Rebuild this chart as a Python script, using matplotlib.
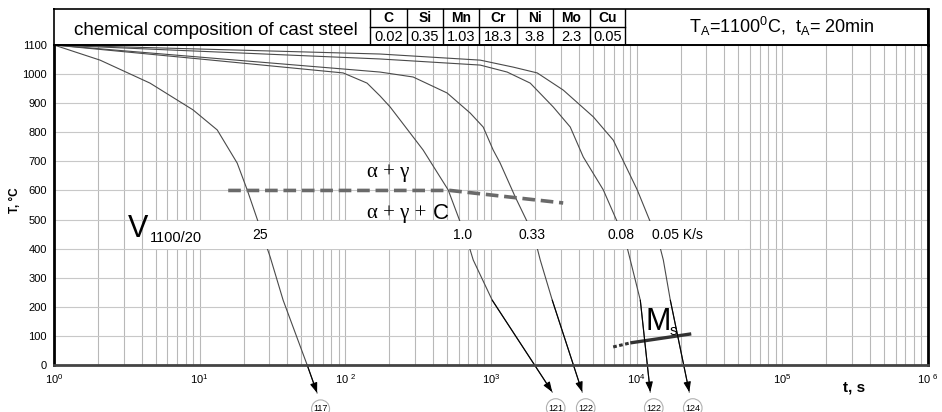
import matplotlib
matplotlib.use('Agg')
import matplotlib.pyplot as plt
import numpy as np
from matplotlib.ticker import LogLocator, NullFormatter

plt.rcParams['font.family'] = ['Liberation Sans', 'DejaVu Sans']
plt.rcParams['mathtext.fontset'] = 'custom'
plt.rcParams['mathtext.rm'] = 'Liberation Sans'
plt.rcParams['mathtext.it'] = 'Liberation Sans:italic'
plt.rcParams['mathtext.bf'] = 'Liberation Sans:bold'

# ---------------- data ----------------
elements = ['C', 'Si', 'Mn', 'Cr', 'Ni', 'Mo', 'Cu']
contents = ['0.02', '0.35', '1.03', '18.3', '3.8', '2.3', '0.05']

rate_labels = ['25', '1.0', '0.33', '0.08', '0.05 K/s']
end_numbers = [117, 121, 122, 122, 124]

t_25 = [1, 2.07, 4.56, 9.0, 13.2, 18.1, 21.2, 25.2, 30.5, 37.4, 54.7, 64]
T_25 = [1100, 1048, 969, 877, 808, 694, 602, 492, 371, 223, 0, -96]

t_1 = [1, 10, 96.6, 141, 173, 203, 238, 342, 508, 614, 720, 755, 1019, 2633]
T_1 = [1100, 1052, 1004, 969, 925, 887, 842, 739, 602, 492, 395, 361, 223, -93]

t_033 = [1, 173, 292, 500, 720, 884, 1035, 1156, 1466, 1774, 2075, 2178, 2633, 4230]
T_033 = [1100, 1007, 990, 935, 866, 818, 739, 694, 578, 492, 402, 361, 223, -93]

t_008 = [1, 173, 843, 1291, 1859, 2674, 3500, 4300, 5900, 7360, 8620, 9040, 10590, 12400]
T_008 = [1100, 1052, 1031, 1007, 969, 887, 818, 715, 602, 492, 402, 361, 223, -93]

t_005 = [1, 173, 843, 1420, 2077, 3134, 5040, 6906, 10090, 12400, 14520, 15240, 17020, 22970]
T_005 = [1100, 1069, 1048, 1024, 1004, 945, 853, 773, 602, 492, 402, 361, 223, -93]

# alpha+gamma boundary
t_ag = [15.7, 525, 3130]
T_ag = [600, 600, 557]

# Ms line (dashed part, solid part)
t_ms_dash = [6900, 9040]
T_ms_dash = [62, 76]
t_ms = [9040, 23700]
T_ms = [76, 107]

curves = [(t_25, T_25), (t_1, T_1), (t_033, T_033), (t_008, T_008), (t_005, T_005)]
label_t = [26.0, 634, 1919, 7840, 12800]

# ---------------- figure ----------------
W, H = 942, 412
fig = plt.figure(figsize=(W / 100, H / 100), dpi=100)
L, R, TOP, BOT = 54, 928, 45, 365
ax = fig.add_axes([L / W, 1 - BOT / H, (R - L) / W, (BOT - TOP) / H])
ax.set_xscale('log')
ax.set_xlim(1, 1e6)
ax.set_ylim(0, 1100)

ax.xaxis.set_minor_locator(LogLocator(base=10, subs=np.arange(2, 10), numticks=30))
ax.xaxis.set_minor_formatter(NullFormatter())
ax.set_xticks([1, 10, 100, 1e3, 1e4, 1e5, 1e6])
ax.set_xticklabels([r'10$^{0}$', r'10$^{1}$', r'10 $^{2}$', r'10$^{3}$',
                    r'10$^{4}$', r'10$^{5}$', r'10 $^{6}$'], fontsize=8)
ax.set_yticks(np.arange(0, 1101, 100))
ax.set_yticklabels([str(v) for v in range(0, 1101, 100)], fontsize=8)
ax.tick_params(axis='both', which='both', length=0)
ax.tick_params(axis='x', pad=5)
ax.tick_params(axis='y', pad=5)
ax.set_axisbelow(True)
ax.grid(True, which='both', axis='x', color='#b8b8b8', lw=0.8)
ax.grid(True, which='major', axis='y', color='#c8c8c8', lw=0.8)

for s in ['left', 'right']:
    ax.spines[s].set_color('black')
    ax.spines[s].set_linewidth(2)
ax.spines['bottom'].set_color('#444444')
ax.spines['bottom'].set_linewidth(2)
ax.spines['top'].set_color('black')
ax.spines['top'].set_linewidth(1.2)

# curves
for (t, T), num in zip(curves, end_numbers):
    ax.plot(t, T, color='#4a4a4a', lw=0.8, zorder=1.5, clip_on=False)
    ax.annotate('', xy=(t[-1], T[-1]), xytext=(t[-2], T[-2]),
                arrowprops=dict(arrowstyle='-|>,head_length=0.6,head_width=0.22',
                                color='black', lw=0.8, shrinkA=0, shrinkB=0,
                                mutation_scale=10),
                annotation_clip=False, zorder=2)
    ax.annotate(str(num), xy=(t[-1], T[-1]), xytext=(2.5, -11.5),
                textcoords='offset points', ha='center', va='center', fontsize=6.5,
                bbox=dict(boxstyle='circle,pad=0.2', fc='white', ec='#b0b0b0', lw=0.8),
                annotation_clip=False)

# white label band
ax.fill_between([4.56, 55700], 400, 495, color='white', lw=0, zorder=2)
for lab, tx in zip(rate_labels, label_t):
    ha = 'left' if 'K/s' in lab else 'center'
    ax.text(tx, 447, lab, fontsize=10, ha=ha, va='center', zorder=3)

ax.text(3.22, 440, 'V', fontsize=22, ha='left', va='baseline', zorder=3)
ax.text(4.56, 423, '1100/20', fontsize=10.5, ha='left', va='baseline', zorder=3)

# alpha + gamma boundary
ax.plot(t_ag, T_ag, color='#6a6a6a', lw=2.6, ls=(0, (3.5, 1.6)), zorder=1.6)
ax.text(197, 663, 'α + γ', fontsize=15, family=['Liberation Serif', 'DejaVu Serif'],
        ha='center', va='center')
ax.text(234, 522, 'α + γ + ', fontsize=15, family=['Liberation Serif', 'DejaVu Serif'],
        ha='center', va='center')
ax.text(400, 522, 'C', fontsize=16, ha='left', va='center')

# Ms
ax.plot(t_ms_dash, T_ms_dash, color='#333333', lw=2.2, ls=(0, (1.2, 0.8)), zorder=1.6)
ax.plot(t_ms, T_ms, color='#333333', lw=2.4, zorder=1.6, solid_capstyle='butt')
ax.text(11460, 120, 'M', fontsize=22, ha='left', va='baseline')
ax.text(16750, 103, 's', fontsize=11, ha='left', va='baseline')

# axis labels
fig.text(854 / W, 1 - 387 / H, 't, s', fontsize=11, fontweight='bold', ha='center', va='center')
fig.text(15 / W, 1 - 200 / H, 'T, °C', fontsize=8.5, fontweight='bold', ha='center',
         va='center', rotation=90)

# ---------------- header ----------------
hax = fig.add_axes([L / W, 1 - TOP / H, (R - L) / W, (TOP - 9) / H])
hax.set_xlim(L, R)
hax.set_ylim(TOP, 9)
hax.axis('off')
hax.plot([L, R, R, L, L], [9, 9, TOP, TOP, 9], color='black', lw=1.2, clip_on=False)
hax.plot([R, R], [9, TOP], color='black', lw=2, clip_on=False)
col_edges = [370, 407, 443, 479, 517, 553, 590, 625]
for xe in col_edges:
    hax.plot([xe, xe], [9, TOP], color='black', lw=1.0)
hax.plot([col_edges[0], col_edges[-1]], [27, 27], color='black', lw=1.0)
hax.text((L + col_edges[0]) / 2 + 4, 35, 'chemical composition of cast steel', fontsize=13.5,
         ha='center', va='baseline')
for i, (el, val) in enumerate(zip(elements, contents)):
    xc = (col_edges[i] + col_edges[i + 1]) / 2
    hax.text(xc, 22.5, el, fontsize=10, fontweight='bold', ha='center', va='baseline')
    hax.text(xc, 41, val, fontsize=10.5, ha='center', va='baseline')
hax.text((col_edges[-1] + R) / 2 + 5, 33.3,
         r'T$_\mathregular{A}$=1100$^\mathregular{0}$C,  t$_\mathregular{A}$= 20min',
         fontsize=13, ha='center', va='baseline')

fig.savefig('out.png', dpi=100)
